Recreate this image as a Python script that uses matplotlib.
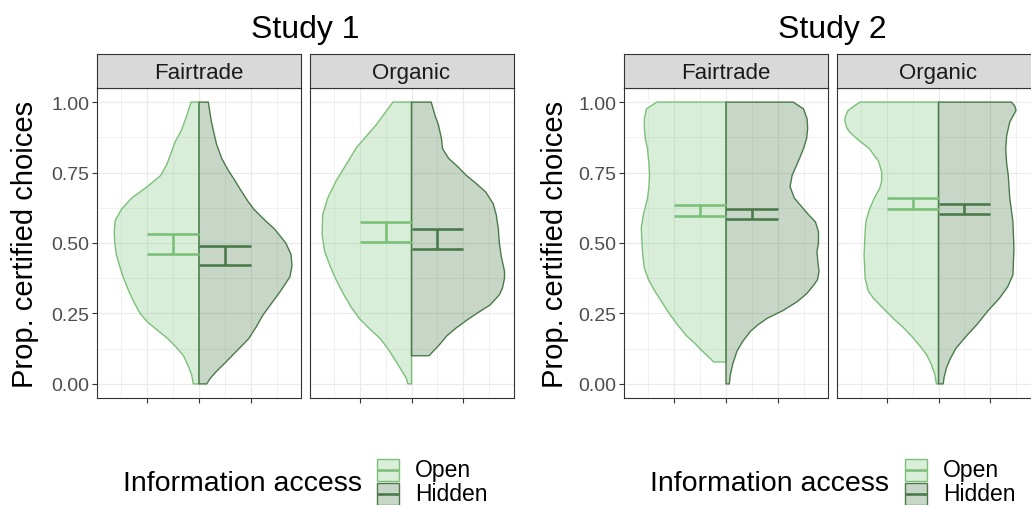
import matplotlib
matplotlib.use('Agg')
import matplotlib.pyplot as plt
from matplotlib.patches import Rectangle
from matplotlib.lines import Line2D

plt.rcParams['font.family'] = ['Liberation Sans', 'DejaVu Sans']

W, H = 1031, 506

studies = ['Study 1', 'Study 2']
facets = ['Fairtrade', 'Organic']
groups = ['Open', 'Hidden']
y_ticks = [0.00, 0.25, 0.50, 0.75, 1.00]
y_tick_labels = ['0.00', '0.25', '0.50', '0.75', '1.00']

# ---- violin outlines: (y values, half-widths) ----
s1_ft_open_y = [1.00, 0.95, 0.90, 0.86, 0.82, 0.78, 0.74, 0.70, 0.66, 0.62, 0.58, 0.54, 0.50, 0.46, 0.42, 0.375, 0.33, 0.29, 0.25, 0.22, 0.19, 0.16, 0.13, 0.10, 0.06, 0.03, 0.00]
s1_ft_open_w = [0.077, 0.12, 0.17, 0.23, 0.27, 0.31, 0.37, 0.50, 0.65, 0.75, 0.81, 0.82, 0.815, 0.80, 0.77, 0.73, 0.68, 0.63, 0.57, 0.50, 0.40, 0.30, 0.22, 0.15, 0.10, 0.07, 0.055]
s1_ft_hid_y = [1.00, 0.93, 0.85, 0.80, 0.76, 0.72, 0.69, 0.65, 0.62, 0.58, 0.55, 0.50, 0.46, 0.42, 0.38, 0.33, 0.29, 0.245, 0.20, 0.16, 0.13, 0.10, 0.07, 0.045, 0.02, 0.00]
s1_ft_hid_w = [0.09, 0.12, 0.17, 0.22, 0.28, 0.35, 0.40, 0.47, 0.53, 0.64, 0.73, 0.84, 0.89, 0.90, 0.88, 0.79, 0.71, 0.62, 0.55, 0.48, 0.40, 0.32, 0.24, 0.17, 0.11, 0.074]

s1_org_open_y = [1.00, 0.92, 0.84, 0.78, 0.72, 0.66, 0.60, 0.53, 0.47, 0.42, 0.37, 0.32, 0.27, 0.23, 0.19, 0.16, 0.12, 0.08, 0.05, 0.02, 0.00]
s1_org_open_w = [0.18, 0.34, 0.53, 0.63, 0.73, 0.81, 0.86, 0.865, 0.84, 0.79, 0.73, 0.66, 0.58, 0.50, 0.39, 0.30, 0.22, 0.15, 0.10, 0.05, 0.035]
s1_org_hid_y = [1.00, 0.95, 0.92, 0.87, 0.835, 0.80, 0.77, 0.74, 0.71, 0.68, 0.64, 0.60, 0.55, 0.50, 0.45, 0.40, 0.375, 0.34, 0.316, 0.28, 0.257, 0.23, 0.198, 0.17, 0.139, 0.10]
s1_org_hid_w = [0.19, 0.23, 0.26, 0.29, 0.30, 0.36, 0.45, 0.53, 0.63, 0.72, 0.79, 0.82, 0.84, 0.85, 0.87, 0.90, 0.90, 0.88, 0.85, 0.76, 0.66, 0.55, 0.43, 0.34, 0.27, 0.17]

s2_ft_open_y = [1.00, 0.976, 0.94, 0.906, 0.87, 0.835, 0.78, 0.74, 0.70, 0.658, 0.60, 0.552, 0.48, 0.44, 0.41, 0.37, 0.33, 0.29, 0.25, 0.21, 0.17, 0.14, 0.12, 0.10, 0.078]
s2_ft_open_w = [0.67, 0.77, 0.79, 0.79, 0.78, 0.76, 0.745, 0.74, 0.745, 0.76, 0.80, 0.82, 0.81, 0.80, 0.79, 0.75, 0.69, 0.62, 0.55, 0.47, 0.38, 0.29, 0.24, 0.18, 0.12]
s2_ft_hid_y = [1.00, 0.976, 0.94, 0.906, 0.87, 0.835, 0.79, 0.74, 0.70, 0.66, 0.634, 0.60, 0.575, 0.54, 0.50, 0.469, 0.43, 0.399, 0.37, 0.351, 0.32, 0.292, 0.26, 0.233, 0.21, 0.186, 0.15, 0.116, 0.07, 0.033, 0.00]
s2_ft_hid_w = [0.65, 0.75, 0.785, 0.79, 0.78, 0.75, 0.70, 0.64, 0.62, 0.66, 0.72, 0.80, 0.865, 0.895, 0.895, 0.88, 0.89, 0.90, 0.885, 0.85, 0.78, 0.69, 0.55, 0.40, 0.31, 0.235, 0.16, 0.106, 0.065, 0.042, 0.032]

s2_org_open_y = [1.00, 0.985, 0.97, 0.95, 0.935, 0.91, 0.894, 0.87, 0.835, 0.79, 0.752, 0.72, 0.693, 0.66, 0.623, 0.58, 0.54, 0.458, 0.375, 0.33, 0.304, 0.27, 0.233, 0.20, 0.163, 0.13, 0.104, 0.07, 0.033, 0.00]
s2_org_open_w = [0.76, 0.82, 0.875, 0.90, 0.906, 0.89, 0.86, 0.79, 0.67, 0.58, 0.55, 0.55, 0.57, 0.62, 0.665, 0.70, 0.71, 0.72, 0.71, 0.68, 0.63, 0.54, 0.44, 0.34, 0.245, 0.17, 0.116, 0.07, 0.035, 0.02]
s2_org_hid_y = [1.00, 0.985, 0.97, 0.95, 0.93, 0.882, 0.835, 0.78, 0.74, 0.658, 0.575, 0.481, 0.387, 0.345, 0.304, 0.26, 0.21, 0.17, 0.127, 0.09, 0.057, 0.025, 0.00]
s2_org_hid_w = [0.706, 0.74, 0.75, 0.72, 0.69, 0.66, 0.65, 0.66, 0.675, 0.69, 0.72, 0.73, 0.72, 0.67, 0.59, 0.48, 0.37, 0.27, 0.17, 0.115, 0.077, 0.055, 0.045]

# ---- confidence intervals (lower, upper) ----
s1_ft_ci = {'Open': (0.462, 0.532), 'Hidden': (0.422, 0.491)}
s1_org_ci = {'Open': (0.502, 0.575), 'Hidden': (0.478, 0.548)}
s2_ft_ci = {'Open': (0.597, 0.634), 'Hidden': (0.585, 0.621)}
s2_org_ci = {'Open': (0.620, 0.658), 'Hidden': (0.603, 0.639)}

violins = {
    ('Study 1', 'Fairtrade'): {'Open': (s1_ft_open_y, s1_ft_open_w), 'Hidden': (s1_ft_hid_y, s1_ft_hid_w), 'ci': s1_ft_ci},
    ('Study 1', 'Organic'): {'Open': (s1_org_open_y, s1_org_open_w), 'Hidden': (s1_org_hid_y, s1_org_hid_w), 'ci': s1_org_ci},
    ('Study 2', 'Fairtrade'): {'Open': (s2_ft_open_y, s2_ft_open_w), 'Hidden': (s2_ft_hid_y, s2_ft_hid_w), 'ci': s2_ft_ci},
    ('Study 2', 'Organic'): {'Open': (s2_org_open_y, s2_org_open_w), 'Hidden': (s2_org_hid_y, s2_org_hid_w), 'ci': s2_org_ci},
}

line_col = {'Open': '#7cc07a', 'Hidden': '#4a7a4a'}
fill_col = {'Open': '#74c476', 'Hidden': '#3c6e3c'}
side = {'Open': -1, 'Hidden': 1}
FILL_ALPHA = 0.28

# ---- layout in pixels ----
panel_x = {('Study 1', 'Fairtrade'): (97, 301), ('Study 1', 'Organic'): (309.5, 513.5),
           ('Study 2', 'Fairtrade'): (624, 828), ('Study 2', 'Organic'): (836.5, 1040.5)}
PT, PB = 89, 399
ST = 55
title_x = {'Study 1': 305, 'Study 2': 832}
ylab_x = {'Study 1': 25, 'Study 2': 555}
legend_title_x = {'Study 1': 123, 'Study 2': 650}
legend_key_x = {'Study 1': 377, 'Study 2': 905}
legend_lab_x = {'Study 1': 415, 'Study 2': 943}


def fx(px):
    return px / W


def fy(py):
    return 1 - py / H


fig = plt.figure(figsize=(W / 100, H / 100), dpi=100)
fig.patch.set_facecolor('white')

for st in studies:
    for fi, facet in enumerate(facets):
        x0, x1 = panel_x[(st, facet)]
        ax = fig.add_axes([fx(x0), fy(PB), fx(x1) - fx(x0), (PB - PT) / H])
        ax.set_xlim(-0.987, 0.987)
        ax.set_ylim(-0.05, 1.05)
        ax.set_xticks([-0.5, 0, 0.5])
        ax.set_xticklabels([])
        ax.set_xticks([-0.75, -0.25, 0.25, 0.75], minor=True)
        ax.set_yticks(y_ticks)
        ax.set_yticks([0.125, 0.375, 0.625, 0.875], minor=True)
        if fi == 0:
            ax.set_yticklabels(y_tick_labels, fontsize=14, color='#4d4d4d')
            ax.tick_params(axis='y', which='major', length=3.5, width=0.8, color='#333333', pad=2)
        else:
            ax.set_yticklabels([])
            ax.tick_params(axis='y', which='major', length=0)
        ax.tick_params(axis='x', which='major', length=3.5, width=0.8, color='#333333')
        ax.tick_params(which='minor', length=0)
        ax.grid(True, which='major', color='#ebebeb', linewidth=0.9, zorder=0)
        ax.grid(True, which='minor', color='#ebebeb', linewidth=0.5, zorder=0)
        ax.set_axisbelow(True)
        for sp in ax.spines.values():
            sp.set_color('#333333')
            sp.set_linewidth(0.8)

        data = violins[(st, facet)]
        for g in groups:
            ys, ws = data[g]
            s = side[g]
            xs = [s * w for w in ws] + [0, 0]
            yy = list(ys) + [ys[-1], ys[0]]
            ax.fill(xs, yy, facecolor=fill_col[g], alpha=FILL_ALPHA, edgecolor='none', zorder=2)
            ax.fill(xs, yy, facecolor='none', edgecolor=line_col[g], linewidth=1.0, zorder=3,
                    joinstyle='round')
        for g in groups:
            lo, hi = data['ci'][g]
            s = side[g]
            xa, xb = (0, 0.5 * s) if s > 0 else (0.5 * s, 0)
            ax.hlines([lo, hi], xa, xb, colors=line_col[g], linewidth=1.9, zorder=4)
            ax.vlines(0.25 * s, lo, hi, colors=line_col[g], linewidth=1.9, zorder=4)

        # strip
        sax = fig.add_axes([fx(x0), fy(PT), fx(x1) - fx(x0), (PT - ST) / H])
        sax.set_facecolor('#d9d9d9')
        sax.set_xticks([])
        sax.set_yticks([])
        for sp in sax.spines.values():
            sp.set_color('#333333')
            sp.set_linewidth(0.8)
        sax.text(0.5, 0.45, facet, ha='center', va='center', fontsize=16, color='#1a1a1a',
                 transform=sax.transAxes)

    # study title
    fig.text(fx(title_x[st]), fy(38), st, ha='center', va='baseline', fontsize=23, color='black')
    # y label
    fig.text(fx(ylab_x[st]), fy((PT + PB) / 2), 'Prop. certified choices', rotation=90,
             ha='center', va='center', fontsize=21, color='black')

    # legend
    fig.text(fx(legend_title_x[st]), fy(484), 'Information access', ha='left', va='center',
             fontsize=20.5, color='black')
    kx = legend_key_x[st]
    key_tops = {'Open': 459.5, 'Hidden': 483.5}
    lab_y = {'Open': 471, 'Hidden': 495}
    for g in groups:
        kt = key_tops[g]
        fig.add_artist(Rectangle((fx(kx), fy(kt + 22)), fx(kx + 22) - fx(kx), 22 / H,
                                 transform=fig.transFigure, facecolor=fill_col[g],
                                 alpha=FILL_ALPHA, edgecolor='none'))
        fig.add_artist(Rectangle((fx(kx), fy(kt + 22)), fx(kx + 22) - fx(kx), 22 / H,
                                 transform=fig.transFigure, facecolor='none',
                                 edgecolor=line_col[g], linewidth=1.0))
        fig.add_artist(Line2D([fx(kx + 1), fx(kx + 21)], [fy(kt + 11), fy(kt + 11)],
                              transform=fig.transFigure, color=line_col[g], linewidth=1.9))
        fig.text(fx(legend_lab_x[st]), fy(lab_y[g]), g, ha='left', va='center',
                 fontsize=16.5, color='black')

fig.savefig('out.png', dpi=100, facecolor='white')
